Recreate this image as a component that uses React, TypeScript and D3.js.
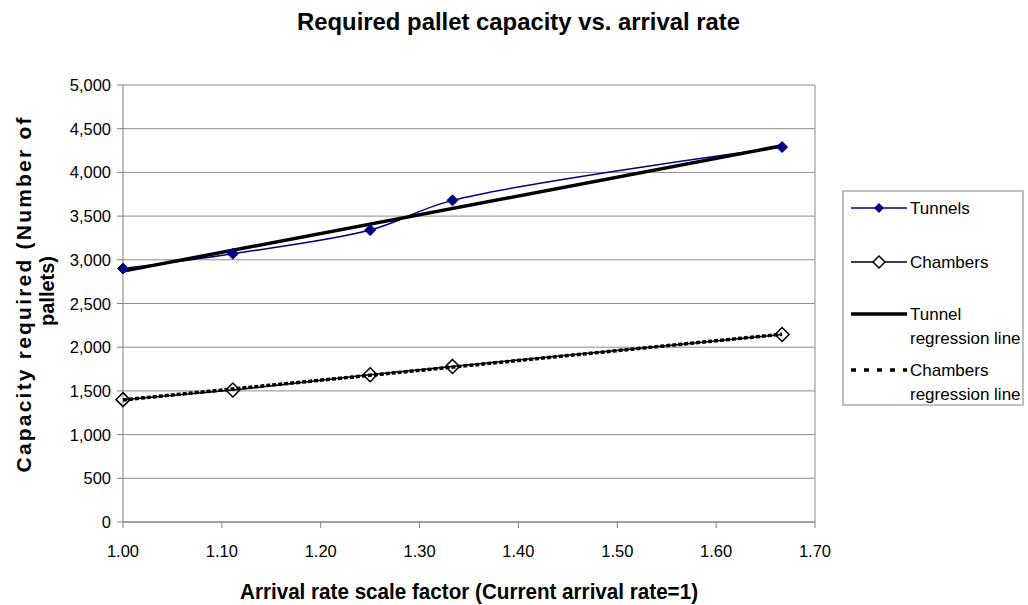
import React from "react";
import * as d3 from "d3";

const xValues = [1.0, 1.1111, 1.25, 1.3333, 1.6667];
const tunnels = [2900, 3070, 3340, 3680, 4290];
const chambers = [1400, 1510, 1685, 1780, 2145];
const yTicks = [0, 500, 1000, 1500, 2000, 2500, 3000, 3500, 4000, 4500, 5000];
const xTicks = [1.0, 1.1, 1.2, 1.3, 1.4, 1.5, 1.6, 1.7];

function regression(xs: number[], ys: number[]) {
  const n = xs.length;
  const mx = d3.mean(xs)!;
  const my = d3.mean(ys)!;
  let sxy = 0, sxx = 0;
  for (let i = 0; i < n; i++) {
    sxy += (xs[i] - mx) * (ys[i] - my);
    sxx += (xs[i] - mx) ** 2;
  }
  const b = sxy / sxx;
  const a = my - b * mx;
  return (x: number) => a + b * x;
}

export default function App() {
  const W = 1028, H = 605;
  const x = d3.scaleLinear().domain([1.0, 1.7]).range([123, 815]);
  const y = d3.scaleLinear().domain([0, 5000]).range([522, 85]);
  const font = "'Liberation Sans', Arial, sans-serif";

  const pts = (ys: number[]) => xValues.map((v, i) => [x(v), y(ys[i])] as [number, number]);
  const smooth = d3.line().curve(d3.curveCatmullRom.alpha(0.5));
  const straight = d3.line();

  const tReg = regression(xValues, tunnels);
  const cReg = regression(xValues, chambers);
  const x0 = xValues[0], x1 = xValues[xValues.length - 1];

  const diamond = (cx: number, cy: number, r: number) =>
    `M${cx},${cy - r}L${cx + r},${cy}L${cx},${cy + r}L${cx - r},${cy}Z`;

  return (
    <svg width={W} height={H} style={{ position: "absolute", left: 0, top: 0, background: "#fff" }}>
      <rect x={0} y={0} width={W} height={H} fill="#fff" />
      <text x={518.5} y={30} textAnchor="middle" fontFamily={font} fontWeight="bold" fontSize={24}
        textLength={443} lengthAdjust="spacingAndGlyphs">
        Required pallet capacity vs. arrival rate
      </text>

      {/* gridlines */}
      {yTicks.map((t) => (
        <line key={t} x1={x(1.0)} x2={x(1.7)} y1={y(t)} y2={y(t)} stroke="#8c8c8c" strokeWidth={1} />
      ))}
      <line x1={x(1.7)} x2={x(1.7)} y1={y(5000)} y2={y(0)} stroke="#8c8c8c" strokeWidth={1} />
      {/* axes */}
      <line x1={x(1.0)} x2={x(1.0)} y1={y(5000)} y2={y(0)} stroke="#808080" strokeWidth={1} />
      <line x1={x(1.0)} x2={x(1.7)} y1={y(0)} y2={y(0)} stroke="#808080" strokeWidth={1} />
      {yTicks.map((t) => (
        <g key={"yt" + t}>
          <line x1={x(1.0) - 6} x2={x(1.0)} y1={y(t)} y2={y(t)} stroke="#808080" />
          <text x={111} y={y(t) + 6} textAnchor="end" fontFamily={font} fontSize={16.5}>
            {d3.format(",")(t)}
          </text>
        </g>
      ))}
      {xTicks.map((t) => (
        <g key={"xt" + t}>
          <line x1={x(t)} x2={x(t)} y1={y(0)} y2={y(0) + 6} stroke="#808080" />
          <text x={x(t)} y={557} textAnchor="middle" fontFamily={font} fontSize={16.5}>
            {t.toFixed(2)}
          </text>
        </g>
      ))}

      {/* series */}
      <path d={smooth(pts(tunnels))!} fill="none" stroke="#000080" strokeWidth={1.5} />
      <path d={straight(pts(chambers))!} fill="none" stroke="#000" strokeWidth={1.5} />
      <path
        d={straight([[x(x0), y(tReg(x0))], [x(x1), y(tReg(x1))]])!}
        fill="none" stroke="#000" strokeWidth={3.5}
      />
      <path
        d={straight([[x(x0), y(cReg(x0))], [x(x1), y(cReg(x1))]])!}
        fill="none" stroke="#000" strokeWidth={3.5} strokeDasharray="4,2"
      />
      {pts(tunnels).map(([cx, cy], i) => (
        <path key={"tm" + i} d={diamond(cx, cy, 5.5)} fill="#000080" stroke="#000080" />
      ))}
      {pts(chambers).map(([cx, cy], i) => (
        <path key={"cm" + i} d={diamond(cx, cy, 7)} fill="#fff" fillOpacity={0} stroke="#000" strokeWidth={1.5} />
      ))}

      {/* axis titles */}
      <text x={469} y={599} textAnchor="middle" fontFamily={font} fontWeight="bold" fontSize={22}
        textLength={458} lengthAdjust="spacingAndGlyphs">
        Arrival rate scale factor (Current arrival rate=1)
      </text>
      <g transform="translate(31,295) rotate(-90)">
        <text x={0} y={0} textAnchor="middle" fontFamily={font} fontWeight="bold" fontSize={21}
          textLength={355} lengthAdjust="spacing">
          Capacity required (Number of
        </text>
        <text x={4} y={23} textAnchor="middle" fontFamily={font} fontWeight="bold" fontSize={20}>
          pallets)
        </text>
      </g>

      {/* legend */}
      <rect x={843} y={191} width={180} height={214} fill="#fff" stroke="#808080" />
      <line x1={851} x2={907} y1={208} y2={208} stroke="#000080" strokeWidth={1.5} />
      <path d={diamond(879, 208, 5)} fill="#000080" />
      <text x={910} y={214} fontFamily={font} fontSize={17}>Tunnels</text>

      <line x1={851} x2={907} y1={262} y2={262} stroke="#000" strokeWidth={1.5} />
      <path d={diamond(879, 262, 6)} fill="#fff" stroke="#000" strokeWidth={1.5} />
      <text x={910} y={268} fontFamily={font} fontSize={17}>Chambers</text>

      <line x1={851} x2={907} y1={314} y2={314} stroke="#000" strokeWidth={3.5} />
      <text x={910} y={320} fontFamily={font} fontSize={17}>Tunnel</text>
      <text x={910} y={344} fontFamily={font} fontSize={17}>regression line</text>

      <line x1={851} x2={907} y1={370} y2={370} stroke="#000" strokeWidth={3.5} strokeDasharray="5,8" />
      <text x={910} y={376} fontFamily={font} fontSize={17}>Chambers</text>
      <text x={910} y={400} fontFamily={font} fontSize={17}>regression line</text>
    </svg>
  );
}
